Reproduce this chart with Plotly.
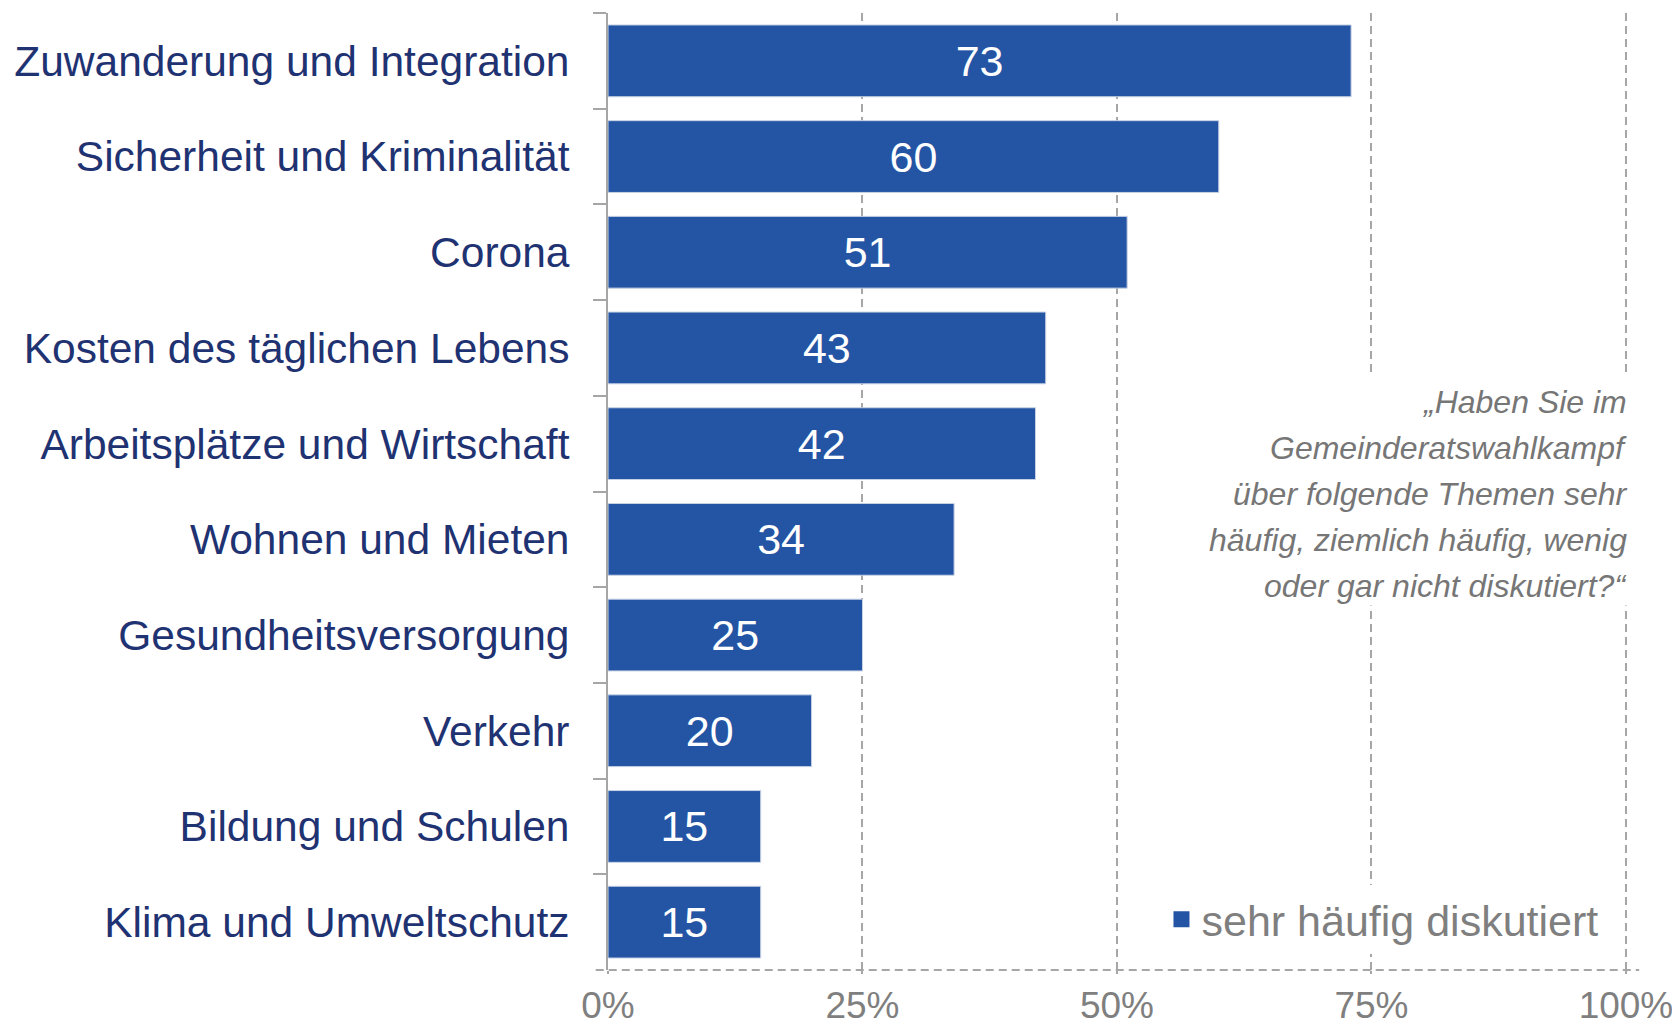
"""Gemeinderatswahlkampf: sehr häufig diskutierte Themen (Plotly)"""

import plotly.graph_objects as go

# Daten
themen = [
    "Zuwanderung und Integration",
    "Sicherheit und Kriminalität",
    "Corona",
    "Kosten des täglichen Lebens",
    "Arbeitsplätze und Wirtschaft",
    "Wohnen und Mieten",
    "Gesundheitsversorgung",
    "Verkehr",
    "Bildung und Schulen",
    "Klima und Umweltschutz",
]
sehr_haeufig = [73, 60, 51, 43, 42, 34, 25, 20, 15, 15]
x_ticks = [0, 25, 50, 75, 100]
x_ticklabels = ["0%", "25%", "50%", "75%", "100%"]
serie_name = "sehr häufig diskutiert"
frage_zeilen = [
    "„Haben Sie im",
    "Gemeinderatswahlkampf",
    "über folgende Themen sehr",
    "häufig, ziemlich häufig, wenig",
    "oder gar nicht diskutiert?“",
]

BLAU = "#2455A4"
NAVY = "#1F3272"
GRAU = "#7F7F7F"
LINIE = "#A6A6A6"
FONT = "Liberation Sans, Arial, sans-serif"

fig = go.Figure()
fig.add_trace(go.Bar(
    x=sehr_haeufig,
    y=themen,
    orientation="h",
    name=serie_name,
    showlegend=False,
    marker=dict(color=BLAU, line=dict(width=1, color="#C9D3E6")),
    text=[str(v) for v in sehr_haeufig],
    textposition="inside",
    insidetextanchor="middle",
    textfont=dict(size=43, color="white", family=FONT),
    width=0.75,
))
# Legendeneintrag mit größerem Quadrat
fig.add_trace(go.Scatter(
    x=[None], y=[None], mode="markers", name=serie_name,
    marker=dict(symbol="square", size=20, color=BLAU),
))

# weißer Kasten hinter der Frage (unterbricht die Gitterlinien)
fig.add_shape(type="rect", xref="paper", yref="paper",
              x0=0.56, x1=1.012, y0=0.381, y1=0.62,
              fillcolor="white", line=dict(width=0), layer="above")

# gestrichelte x-Achsenlinie
fig.add_shape(type="line", xref="paper", yref="paper",
              x0=-0.012, x1=1.010, y0=0, y1=0,
              line=dict(color=LINIE, width=2, dash="8px,5px"), layer="above")

# Fragetext, zeilenweise
zeilen_y_oben, zeilen_abstand = 0.5935, 0.048
for i, zeile in enumerate(frage_zeilen):
    fig.add_annotation(
        text=zeile, xref="paper", yref="paper",
        x=1.0, y=zeilen_y_oben - i * zeilen_abstand,
        xanchor="right", yanchor="middle", showarrow=False,
        font=dict(size=32, color="#767676", family=FONT, style="italic"),
    )

# Seite hat 8px Rand -> Figur etwas kleiner
fig.update_layout(
    width=1672,
    height=1019,
    margin=dict(l=600, r=51, t=5, b=57, autoexpand=False),
    paper_bgcolor="white",
    plot_bgcolor="white",
    font=dict(family=FONT),
    bargap=0.25,
    showlegend=True,
    legend=dict(
        x=0.975, y=0.053, xanchor="right", yanchor="middle",
        bgcolor="white", font=dict(size=43, color=GRAU, family=FONT),
        itemwidth=30,
    ),
    xaxis=dict(
        range=[0, 100.3],
        tickvals=x_ticks,
        ticktext=x_ticklabels,
        tickfont=dict(size=37, color=GRAU, family=FONT),
        showgrid=True,
        gridcolor=LINIE,
        gridwidth=2,
        griddash="8px,5px",
        zeroline=False,
        showline=False,
        ticks="outside",
        ticklen=3,
        tickwidth=2,
        tickcolor=LINIE,
        fixedrange=True,
    ),
    yaxis=dict(
        autorange="reversed",
        tickfont=dict(size=42.5, color=NAVY, family=FONT),
        showline=True,
        linecolor=LINIE,
        linewidth=2,
        ticks="outside",
        tickson="boundaries",
        ticklen=13,
        tickwidth=2,
        tickcolor=LINIE,
        ticklabelstandoff=28,
        showgrid=False,
        fixedrange=True,
    ),
)

fig.write_html("out.html")
